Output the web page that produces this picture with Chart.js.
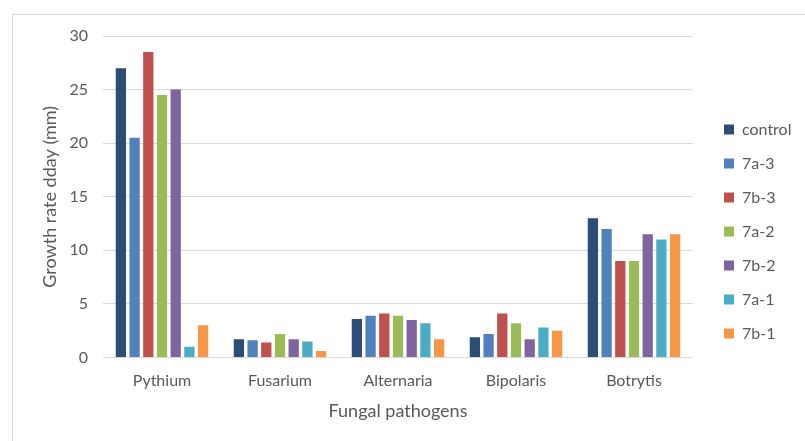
<!DOCTYPE html>
<html>
<head>
<meta charset="utf-8">
<script src="https://cdn.jsdelivr.net/npm/chart.js@4"></script>
<style>
  html, body { margin: 0; padding: 0; background: #ffffff; }
  #wrap { position: relative; width: 805px; height: 441px; overflow: hidden; }
  #frame { position: absolute; left: 12px; top: 14px; width: 900px; height: 600px; border: 1px solid #d9d9d9; box-sizing: border-box; }
  canvas { position: absolute; left: 0; top: 0; }
</style>
</head>
<body>
<div id="wrap">
  <div id="frame"></div>
  <canvas id="c" width="805" height="441"></canvas>
</div>
<script>
const categories = ['Pythium', 'Fusarium', 'Alternaria', 'Bipolaris', 'Botrytis'];
const seriesNames = ['control', '7a-3', '7b-3', '7a-2', '7b-2', '7a-1', '7b-1'];
const control = [27, 1.7, 3.6, 1.9, 13];
const s7a3 = [20.5, 1.6, 3.9, 2.2, 12];
const s7b3 = [28.5, 1.4, 4.1, 4.1, 9];
const s7a2 = [24.5, 2.2, 3.9, 3.2, 9];
const s7b2 = [25, 1.7, 3.5, 1.7, 11.5];
const s7a1 = [1.0, 1.5, 3.2, 2.8, 11];
const s7b1 = [3.0, 0.6, 1.7, 2.5, 11.5];
const yTicks = [0, 5, 10, 15, 20, 25, 30];

const seriesValues = [control, s7a3, s7b3, s7a2, s7b2, s7a1, s7b1];
const colors = ['#2C4D75', '#4F81BD', '#C0504D', '#9BBB59', '#8064A2', '#4BACC6', '#F79646'];

const FONT = 'Lato, "Open Sans", sans-serif';
const TXT = '#595959';

const legendTweak = {
  id: 'legendTweak',
  beforeLayout(chart) {
    const lg = chart.legend;
    if (lg && !lg._wrapped) {
      const u = lg.update;
      lg.update = function (...a) {
        u.apply(this, a);
        this.width = 805 - 693;
        this.right = this.left + this.width;
      };
      lg._wrapped = true;
    }
  },
  afterLayout(chart) {
    const lg = chart.legend;
    const pad = lg.options.labels.padding;
    const w = lg.width, h = lg.height;
    lg.left = 724 - pad; lg.right = lg.left + w;
    lg.top = 129.5 - pad - 8; lg.bottom = lg.top + h;
  }
};

new Chart(document.getElementById('c'), {
  type: 'bar',
  data: {
    labels: categories,
    datasets: seriesNames.map((n, i) => ({
      label: n,
      data: seriesValues[i],
      backgroundColor: colors[i],
      borderWidth: 0,
      categoryPercentage: 0.813,
      barPercentage: 0.75
    }))
  },
  options: {
    responsive: false,
    animation: false,
    devicePixelRatio: 1,
    layout: { padding: { left: 0, top: 36, right: 0, bottom: 0 } },
    plugins: {
      tooltip: { enabled: false },
      legend: {
        position: 'right',
        align: 'start',
        labels: {
          boxWidth: 10, boxHeight: 10, padding: 18,
          color: TXT,
          font: { family: FONT, size: 16 }
        }
      }
    },
    scales: {
      x: {
        grid: { display: false, drawTicks: false },
        border: { display: false },
        ticks: { color: TXT, font: { family: FONT, size: 16 }, padding: 14 },
        title: { display: true, text: 'Fungal pathogens', color: TXT, font: { family: FONT, size: 18 }, padding: { top: 0, bottom: 19 } },
        afterFit(scale) { scale.height = 441 - 357.5; }
      },
      y: {
        min: 0, max: 30,
        afterBuildTicks(scale) { scale.ticks = yTicks.map(v => ({ value: v })); },
        grid: { color: '#D9D9D9', lineWidth: 1, drawTicks: false },
        border: { display: false },
        ticks: { color: TXT, font: { family: FONT, size: 16 }, padding: 15 },
        title: { display: true, text: 'Growth rate dday (mm)', color: TXT, font: { family: FONT, size: 18 }, padding: { top: 39, bottom: 0 } },
        afterFit(scale) { scale.width = 103; }
      }
    }
  },
  plugins: [legendTweak]
});
</script>
</body>
</html>
